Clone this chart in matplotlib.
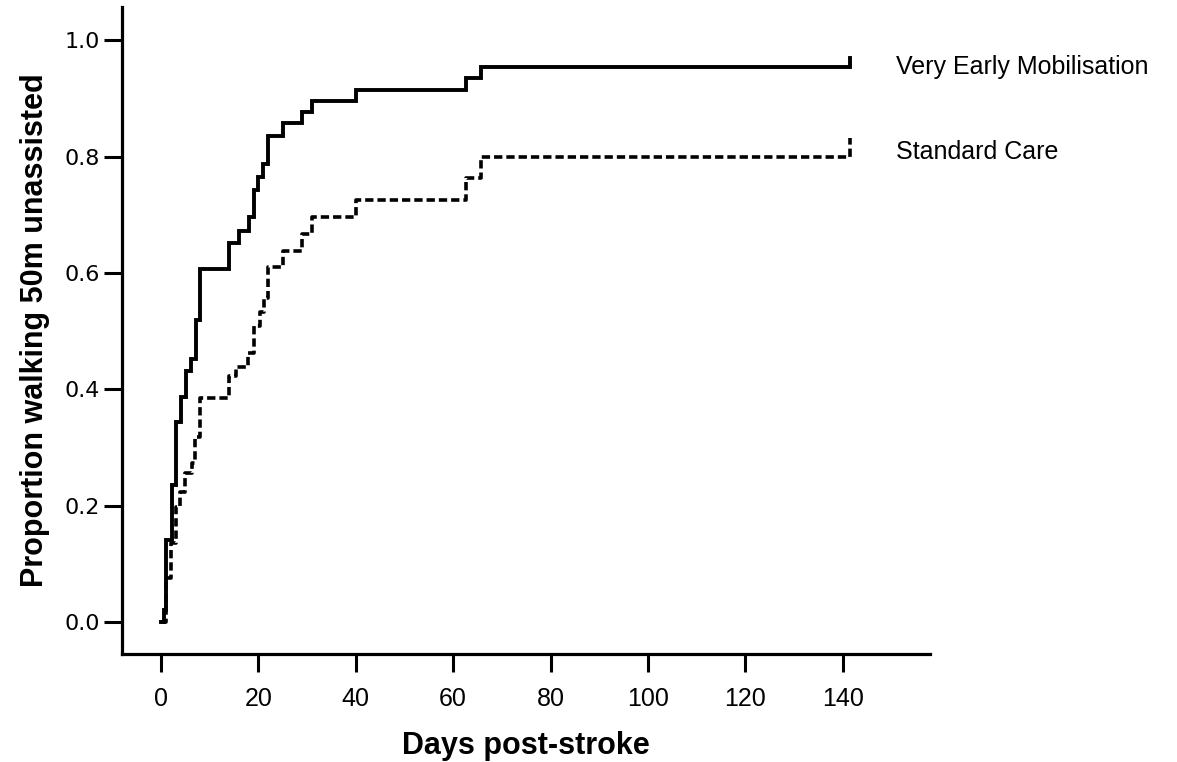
import matplotlib
matplotlib.use("Agg")
import matplotlib.pyplot as plt

# Very Early Mobilisation (solid) — step times (days) and cumulative proportions
vem_days = [0, 0.6, 1.0, 2.2, 3.0, 4.2, 5.2, 6.2, 7.2, 8.0, 14.0, 16.0, 18.0, 19.0,
            20.0, 21.0, 22.0, 25.0, 29.0, 31.0, 40.0, 62.7, 65.8, 141.5]
vem_prop = [0.0, 0.02, 0.141, 0.235, 0.344, 0.387, 0.432, 0.452, 0.519, 0.607, 0.651,
            0.672, 0.696, 0.742, 0.765, 0.788, 0.835, 0.857, 0.876, 0.895, 0.914,
            0.935, 0.954, 0.969]

# Standard Care (dashed)
sc_days = [0, 1.0, 2.0, 3.0, 4.0, 5.0, 6.3, 7.0, 8.0, 14.0, 15.5, 17.8, 19.0, 20.3,
           21.2, 22.0, 25.0, 29.0, 31.0, 40.0, 62.7, 65.8, 141.5]
sc_prop = [0.0, 0.076, 0.136, 0.198, 0.223, 0.256, 0.273, 0.318, 0.385, 0.423, 0.438,
           0.462, 0.508, 0.533, 0.556, 0.610, 0.637, 0.667, 0.696, 0.725, 0.763,
           0.800, 0.832]

x_ticks = [0, 20, 40, 60, 80, 100, 120, 140]
y_ticks = [0.0, 0.2, 0.4, 0.6, 0.8, 1.0]
y_tick_labels = ["0.0", "0.2", "0.4", "0.6", "0.8", "1.0"]
series_labels = ["Very Early Mobilisation", "Standard Care"]

W, H = 1177, 762
fig = plt.figure(figsize=(W / 100, H / 100), dpi=100)
left, right, bottom, top = 122, 930, 654, 7
ax = fig.add_axes([left / W, 1 - bottom / H, (right - left) / W, (bottom - top) / H])

ax.step(vem_days, vem_prop, where="post", color="black", lw=2.8, solid_joinstyle="miter")
ax.step(sc_days, sc_prop, where="post", color="black", lw=2.6, linestyle=(0, (2.3, 1.1)))

ax.set_xlim(-8.0, 157.9)
ax.set_ylim(-0.055, 1.057)

for s in ["top", "right"]:
    ax.spines[s].set_visible(False)
for s in ["left", "bottom"]:
    ax.spines[s].set_linewidth(2.3)

ax.set_xticks(x_ticks)
ax.set_xticklabels([str(v) for v in x_ticks], fontfamily="Liberation Sans", fontsize=18)
ax.set_yticks(y_ticks)
ax.set_yticklabels(y_tick_labels, fontfamily="DejaVu Sans", fontsize=16)
ax.tick_params(axis="x", direction="out", length=13, width=2.2, pad=11)
ax.tick_params(axis="y", direction="out", length=13, width=2.2, pad=3)

ax.set_xlabel("Days post-stroke", fontfamily="Liberation Sans", fontweight="bold",
              fontsize=22, labelpad=14)
ax.set_ylabel("Proportion walking 50m unassisted", fontfamily="Liberation Sans",
              fontweight="bold", fontsize=22, labelpad=10)

ax.text(151, 0.954, series_labels[0], fontfamily="Liberation Sans", fontsize=18,
        va="center", ha="left", clip_on=False)
ax.text(151, 0.808, series_labels[1], fontfamily="Liberation Sans", fontsize=18,
        va="center", ha="left", clip_on=False)

fig.savefig("out.png", dpi=100)
